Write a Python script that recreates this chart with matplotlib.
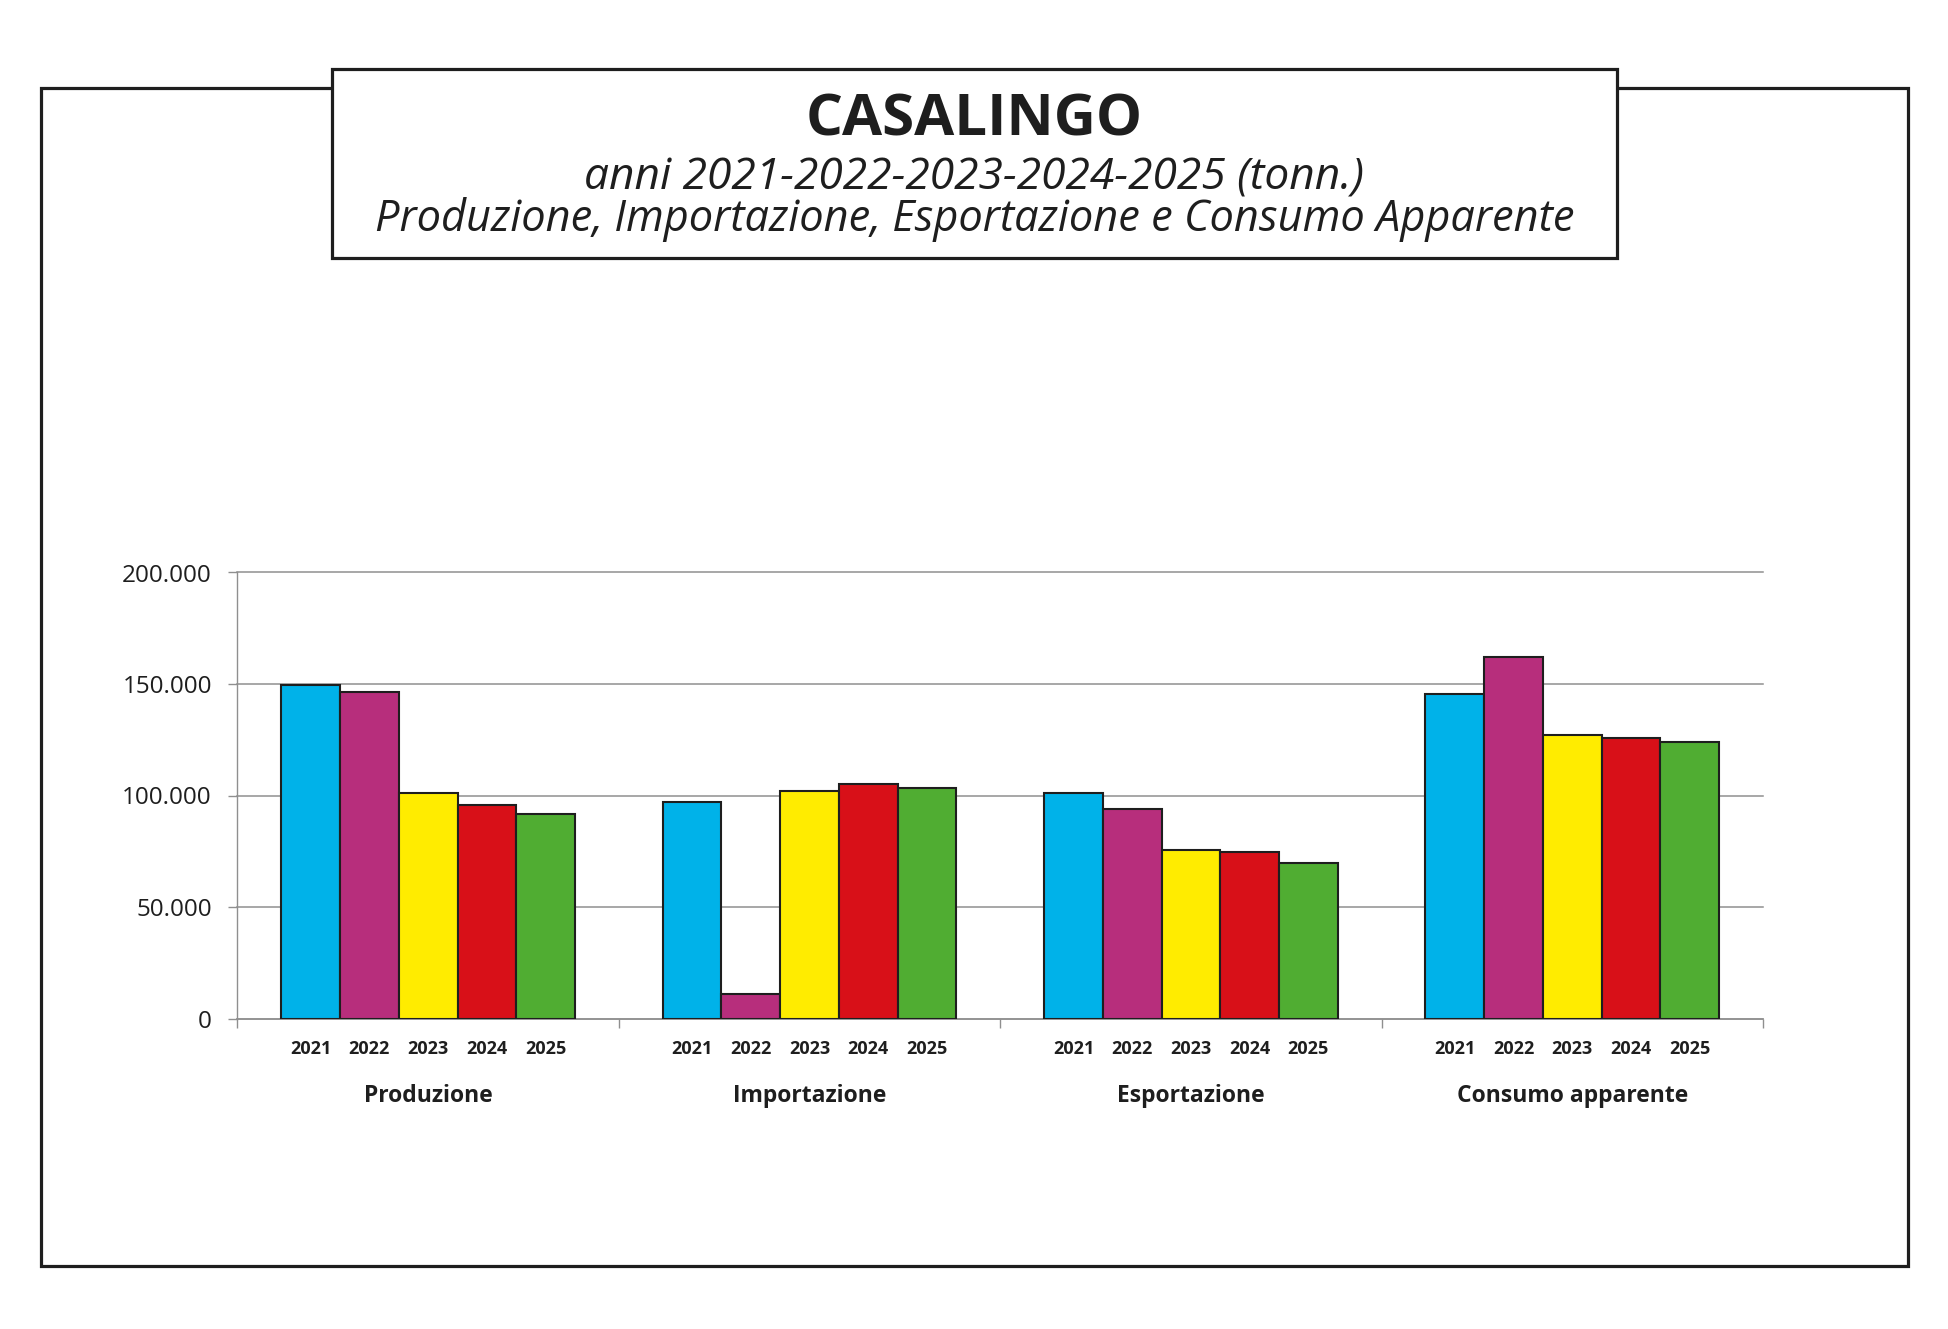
import matplotlib
matplotlib.use("Agg")
import matplotlib.pyplot as plt
from matplotlib.patches import Rectangle
from matplotlib.transforms import blended_transform_factory

# ============================================================
# DATI
# ============================================================

categorie = ["Produzione", "Importazione", "Esportazione", "Consumo apparente"]
anni = ["2021", "2022", "2023", "2024", "2025"]

# valori in tonnellate, per anno, nello stesso ordine delle categorie
valori_2021 = [149400, 97200, 101200, 145300]
valori_2022 = [146300, 10900, 93900, 161900]
valori_2023 = [101000, 101800, 75600, 127200]
valori_2024 = [95700, 105100, 74800, 125700]
valori_2025 = [91500, 103200, 69700, 124200]

serie = [valori_2021, valori_2022, valori_2023, valori_2024, valori_2025]
colori = ["#00B2E9", "#B72E7C", "#FFEC00", "#D81018", "#50AD32"]

y_ticks = [0, 50000, 100000, 150000, 200000]

# ============================================================
# FIGURA
# ============================================================

W, H = 1949, 1329
DPI = 100
fig = plt.figure(figsize=(W / DPI, H / DPI), dpi=DPI)
fig.patch.set_facecolor("white")

FONT = "Open Sans"
INK = "#1e1e1e"
GRIGIO = "#8f8f8f"


def px(x, y):
    # pixel dall'alto a sinistra -> coordinate figura
    return x / W, 1 - y / H


# cornice esterna
x0, y0 = px(41, 1266)
x1, y1 = px(1908, 88)
fig.patches.append(Rectangle((x0, y0), x1 - x0, y1 - y0, transform=fig.transFigure,
                             fill=False, edgecolor=INK, linewidth=2.3, zorder=1))

# riquadro titolo
x0, y0 = px(332, 258)
x1, y1 = px(1617, 69)
fig.patches.append(Rectangle((x0, y0), x1 - x0, y1 - y0, transform=fig.transFigure,
                             facecolor="white", edgecolor=INK, linewidth=2.3, zorder=2))

renderer = fig.canvas.get_renderer()


def testo_fit(x, y, s, larghezza, **kw):
    t = fig.text(x / W, 1 - y / H, s, ha="center", va="center", fontsize=20,
                 family=FONT, color=INK, zorder=3, **kw)
    w = t.get_window_extent(renderer).width
    t.set_fontsize(20 * larghezza / w)
    return t


testo_fit(974.5, 121, "CASALINGO", 337, fontweight="bold")
testo_fit(974.5, 178, "anni 2021-2022-2023-2024-2025 (tonn.)", 778, style="italic")
testo_fit(974.5, 220, "Produzione, Importazione, Esportazione e Consumo Apparente",
          1200, style="italic")

# ============================================================
# GRAFICO A BARRE
# ============================================================

left, top, right, bottom = 237.5, 572.5, 1763, 1018.5
ax = fig.add_axes([left / W, 1 - bottom / H, (right - left) / W, (bottom - top) / H])

larghezza_barra = 0.154
for i, valori in enumerate(serie):
    posizioni = [c + 0.5 + (i - 2) * larghezza_barra for c in range(len(categorie))]
    ax.bar(posizioni, valori, width=larghezza_barra, color=colori[i],
           edgecolor=INK, linewidth=1.5, zorder=3)

ax.set_xlim(0, len(categorie))
ax.set_ylim(0, 200000)

ax.set_yticks(y_ticks)
ax.set_yticklabels([f"{v:,}".replace(",", ".") for v in y_ticks],
                   fontsize=17.5, family=FONT, color=INK)
ax.yaxis.grid(True, color=GRIGIO, linewidth=1.1, zorder=0)
for linea in ax.get_ygridlines():
    linea.set_clip_on(False)
ax.set_axisbelow(True)

ax.set_xticks(range(len(categorie) + 1))
ax.set_xticklabels([])
ax.tick_params(axis="both", length=6.5, width=1.0, color=GRIGIO, pad=12)

for lato in ["top", "right"]:
    ax.spines[lato].set_visible(False)
ax.spines["left"].set_color(GRIGIO)
ax.spines["bottom"].set_color(GRIGIO)
ax.spines["left"].set_linewidth(1.0)
ax.spines["bottom"].set_linewidth(1.1)

# etichette anni e categorie sotto l'asse
trans = blended_transform_factory(ax.transData, fig.transFigure)
for c, nome in enumerate(categorie):
    for i, anno in enumerate(anni):
        ax.text(c + 0.5 + (i - 2) * larghezza_barra, 1 - 1048.5 / H, anno,
                transform=trans, ha="center", va="center", fontsize=13,
                fontweight="bold", family=FONT, color=INK)
    ax.text(c + 0.5, 1 - 1096 / H, nome, transform=trans, ha="center", va="center",
            fontsize=16.5, fontweight="bold", family=FONT, color=INK)

fig.savefig("out.png", dpi=DPI, facecolor="white")
